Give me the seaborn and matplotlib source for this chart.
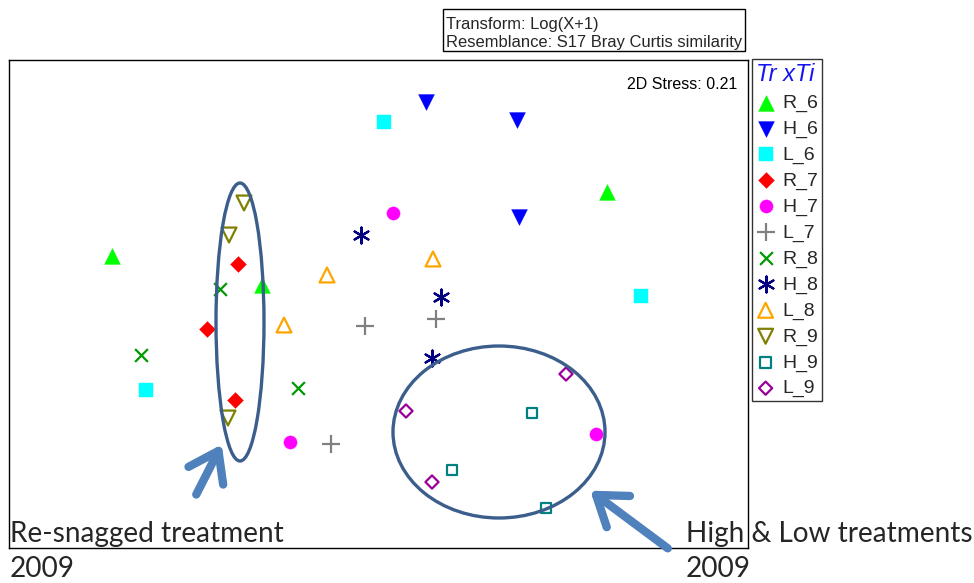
import matplotlib
matplotlib.use("Agg")
import matplotlib.pyplot as plt
from matplotlib.patches import Ellipse, Rectangle, FancyArrowPatch
import seaborn as sns
import pandas as pd

# ---------------- data (nMDS coordinates) ----------------
sample_group = ["R_6", "R_6", "R_6",
                "H_6", "H_6", "H_6",
                "L_6", "L_6", "L_6",
                "R_7", "R_7", "R_7",
                "H_7", "H_7", "H_7",
                "L_7", "L_7", "L_7",
                "R_8", "R_8", "R_8",
                "H_8", "H_8", "H_8",
                "L_8", "L_8", "L_8",
                "R_9", "R_9", "R_9",
                "H_9", "H_9", "H_9",
                "L_9", "L_9", "L_9"]
mds1 = [-2.66, -1.16, 2.29,
        0.48, 1.39, 1.41,
        0.06, 2.63, -2.32,
        -1.40, -1.71, -1.43,
        0.15, -0.88, 2.18,
        -0.13, 0.58, -0.47,
        -1.58, -2.37, -0.80,
        -0.17, 0.63, 0.54,
        -0.51, 0.55, -0.94,
        -1.34, -1.49, -1.50,
        1.54, 0.74, 1.68,
        1.88, 0.28, 0.54]
mds2 = [0.48, 0.19, 1.12,
        2.02, 1.84, 0.87,
        1.82, 0.08, -0.86,
        0.40, -0.25, -0.96,
        0.91, -1.38, -1.30,
        -0.22, -0.15, -1.40,
        0.15, -0.51, -0.84,
        0.69, 0.07, -0.54,
        0.29, 0.45, -0.21,
        1.01, 0.69, -1.14,
        -1.09, -1.66, -2.04,
        -0.70, -1.07, -1.78]

legend_order = ["R_6", "H_6", "L_6", "R_7", "H_7", "L_7",
                "R_8", "H_8", "L_8", "R_9", "H_9", "L_9"]
stress_text = "2D Stress: 0.21"
info_lines = ["Transform: Log(X+1)", "Resemblance: S17 Bray Curtis similarity"]

# ---------------- styles ----------------
group_colors = ["#00FF00", "#0000FF", "#00FFFF", "#FF0000", "#FF00FF", "#808080",
                "#009900", "#000080", "#FFA500", "#808000", "#008080", "#990099"]
group_markers = ["^", "v", "s", "D", "o", "+", "x", (6, 2, 0), "^", "v", "s", "D"]
group_kind = ["filled", "filled", "filled", "filled", "filled", "line",
              "line", "line", "open", "open", "open", "open"]
group_sizes = [130, 130, 95, 65, 90, 150, 85, 130, 115, 115, 60, 45]

df = pd.DataFrame({"MDS1": mds1, "MDS2": mds2, "group": sample_group})

sns.set_style("white")
plt.rcParams["font.family"] = ["Liberation Sans", "DejaVu Sans"]

W, H = 974, 583
fig = plt.figure(figsize=(W / 100, H / 100), dpi=100)
ax = fig.add_axes([9 / W, 35 / H, 739 / W, 488 / H])

for g, col, mk, kind, sz in zip(legend_order, group_colors, group_markers,
                                group_kind, group_sizes):
    sub = df[df["group"] == g]
    if kind == "filled":
        sns.scatterplot(data=sub, x="MDS1", y="MDS2", ax=ax, marker=mk, s=sz,
                        color=col, edgecolor=col, linewidth=0.3, label=g,
                        legend=False, zorder=3)
    elif kind == "open":
        sns.scatterplot(data=sub, x="MDS1", y="MDS2", ax=ax, marker=mk, s=sz,
                        color=col, facecolor="none", edgecolor=col,
                        linewidth=1.6, label=g, legend=False, zorder=3)
    else:
        sns.scatterplot(data=sub, x="MDS1", y="MDS2", ax=ax, marker=mk, s=sz,
                        color=col, edgecolor=col, linewidth=1.6, label=g,
                        legend=False, zorder=3)

ax.set_xlim(-3.69, 3.70)
ax.set_ylim(-2.44, 2.44)
ax.set_xticks([])
ax.set_yticks([])
ax.set_xlabel("")
ax.set_ylabel("")
for sp in ax.spines.values():
    sp.set_visible(True)
    sp.set_color("black")
    sp.set_linewidth(1.0)

ax.text(0.985, 0.965, stress_text, transform=ax.transAxes, ha="right", va="top",
        fontsize=11.5, color="black")

# ellipses
ell_col = "#3B5E8C"
ax.add_patch(Ellipse((-1.38, -0.18), 0.48, 2.78, fill=False, ec=ell_col, lw=2.4, zorder=4))
ax.add_patch(Ellipse((1.21, -1.28), 2.12, 1.72, fill=False, ec=ell_col, lw=2.4, zorder=4))

# arrows
arr_col = "#4F81BD"
for (x0, y0), (x1, y1) in [((-1.83, -1.93), (-1.55, -1.38)),
                           ((2.92, -2.46), (2.10, -1.85))]:
    a = FancyArrowPatch((x0, y0), (x1, y1),
                        arrowstyle="->,head_length=1.0,head_width=0.7",
                        mutation_scale=20, lw=6, color=arr_col,
                        capstyle="round", joinstyle="round",
                        clip_on=False, zorder=5)
    ax.add_patch(a)

# legend
handles, labels = ax.get_legend_handles_labels()
leg = ax.legend(handles, labels, loc="upper left",
                bbox_to_anchor=(752 / W, 1 - 59 / H), bbox_transform=fig.transFigure,
                borderaxespad=0, frameon=True, fancybox=False, fontsize=14,
                title="Tr xTi", title_fontsize=17, labelspacing=0.42,
                handlelength=1.0, handletextpad=0.38, borderpad=0.2,
                alignment="left", scatterpoints=1)
leg.get_frame().set_edgecolor("black")
leg.get_frame().set_linewidth(1.0)
leg.get_title().set_color("#1515F0")
leg.get_title().set_fontstyle("italic")

# info box on top
fig.patches.append(Rectangle((443 / W, 1 - 51 / H), 302 / W, 42 / H,
                             transform=fig.transFigure, fill=False,
                             ec="black", lw=1.0))
fig.text(446 / W, 1 - 29 / H, info_lines[0], fontsize=11.9, va="baseline")
fig.text(446 / W, 1 - 47 / H, info_lines[1], fontsize=11.9, va="baseline")

# annotations
cal = ["Lato", "DejaVu Sans"]
fig.text(10 / W, 1 - 542 / H, "Re-snagged treatment", fontsize=20.2, family=cal, va="baseline")
fig.text(10 / W, 1 - 577 / H, "2009", fontsize=20.2, family=cal, va="baseline")
fig.text(686 / W, 1 - 542 / H, "High & Low treatments", fontsize=20.2, family=cal, va="baseline")
fig.text(686 / W, 1 - 577 / H, "2009", fontsize=20.2, family=cal, va="baseline")

fig.savefig("out.png", dpi=100)
